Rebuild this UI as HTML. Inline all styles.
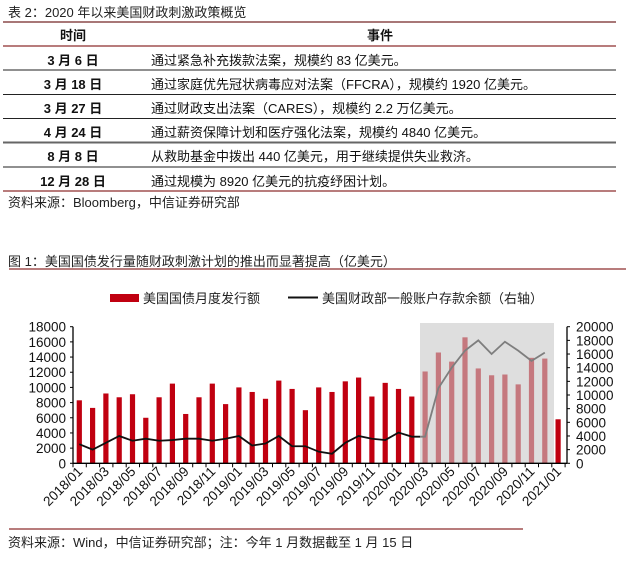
<!DOCTYPE html>
<html><head><meta charset="utf-8"><style>
body{margin:0;background:#fff;width:640px;height:558px;overflow:hidden;font-family:"Liberation Sans","Noto Sans CJK SC",sans-serif;}
svg text{font-family:"Liberation Sans","Noto Sans CJK SC",sans-serif;}
</style></head><body>
<svg width="640" height="558" xmlns="http://www.w3.org/2000/svg">
<text x="8" y="17" font-size="13" fill="#222">表 2：2020 年以来美国财政刺激政策概览</text>
<line x1="3" y1="22" x2="616" y2="22" stroke="#8b4a4a" stroke-width="1.5"/>
<text x="73" y="40" font-size="13" font-weight="bold" text-anchor="middle" fill="#111">时间</text>
<text x="380" y="40" font-size="13" font-weight="bold" text-anchor="middle" fill="#111">事件</text>
<line x1="3" y1="46" x2="616" y2="46" stroke="#a05050" stroke-width="1.5"/>
<g stroke="#222" stroke-width="1">
<line x1="3" y1="70" x2="616" y2="70"/><line x1="3" y1="94.5" x2="616" y2="94.5"/><line x1="3" y1="118.5" x2="616" y2="118.5"/><line x1="3" y1="142.5" x2="616" y2="142.5" stroke="#666" stroke-width="2"/><line x1="3" y1="167" x2="616" y2="167"/></g>
<line x1="3" y1="191" x2="616" y2="191" stroke="#a05050" stroke-width="1.5"/>
<g font-size="13" fill="#111">
<g font-weight="bold" text-anchor="middle">
<text x="73" y="65">3 月 6 日</text><text x="73" y="89">3 月 18 日</text><text x="73" y="113">3 月 27 日</text><text x="73" y="137">4 月 24 日</text><text x="73" y="161">8 月 8 日</text><text x="73" y="186">12 月 28 日</text></g>
<text x="151" y="65">通过紧急补充拨款法案，规模约 83 亿美元。</text>
<text x="151" y="89">通过家庭优先冠状病毒应对法案（FFCRA），规模约 1920 亿美元。</text>
<text x="151" y="113">通过财政支出法案（CARES），规模约 2.2 万亿美元。</text>
<text x="151" y="137">通过薪资保障计划和医疗强化法案，规模约 4840 亿美元。</text>
<text x="151" y="161">从救助基金中拨出 440 亿美元，用于继续提供失业救济。</text>
<text x="151" y="186">通过规模为 8920 亿美元的抗疫纾困计划。</text>
</g>
<text x="8" y="207" font-size="13" fill="#222">资料来源：Bloomberg，中信证券研究部</text>

<text x="8" y="266" font-size="13" fill="#222">图 1：美国国债发行量随财政刺激计划的推出而显著提高（亿美元）</text>
<line x1="9" y1="269" x2="626" y2="269" stroke="#a05050" stroke-width="1.5"/>
<rect x="110" y="294" width="29" height="8" fill="#c00010"/>
<text x="143" y="303" font-size="13" fill="#222">美国国债月度发行额</text>
<line x1="288" y1="297.5" x2="318" y2="297.5" stroke="#111" stroke-width="2"/>
<text x="322" y="303" font-size="13" fill="#222">美国财政部一般账户存款余额（右轴）</text>

<g id="chart"></g>
<line x1="9" y1="529" x2="523" y2="529" stroke="#a05050" stroke-width="1.5"/>
<text x="8" y="547" font-size="13" fill="#222">资料来源：Wind，中信证券研究部；注：今年 1 月数据截至 1 月 15 日</text>
</svg>
<script>
var bars=[8300,7300,9200,8700,9100,6000,8700,10500,6500,8700,10500,7800,10000,9400,8500,10900,9800,7000,10000,9400,10800,11300,8800,10600,9800,8800,12100,14600,13400,16600,12500,11600,11700,10400,13900,13800,5800];
var line=[2800,2000,3000,4000,3300,3600,3300,3400,3600,3600,3300,3600,4000,2600,2900,4000,2500,2500,1700,1400,3000,4000,3600,3400,4500,3900,3900,11000,14000,16500,18000,16000,17800,16500,15000,16200];
var x0=73,sp=13.3,y0=463.3,yt=326.7,H=y0-yt;
var s='';
function X(i){return x0+6.3+i*sp;}
for(var i=0;i<bars.length;i++){var h=bars[i]/18000*H;s+='<rect x="'+(X(i)-2.6)+'" y="'+(y0-h)+'" width="5.2" height="'+h+'" fill="#c00010"/>';}
var p='';for(var i=0;i<line.length;i++){p+=(i?'L':'M')+X(i)+','+(y0-line[i]/20000*H);}
s+='<path d="'+p+'" fill="none" stroke="#111" stroke-width="1.8"/>';
s+='<rect x="420" y="323" width="134" height="140" fill="#c8c8c8" opacity="0.6"/>';
s+='<line x1="73" y1="'+yt+'" x2="73" y2="'+y0+'" stroke="#000" stroke-width="1.3"/>';
s+='<line x1="567" y1="'+yt+'" x2="567" y2="'+y0+'" stroke="#000" stroke-width="1.3"/>';
s+='<line x1="73" y1="'+y0+'" x2="567" y2="'+y0+'" stroke="#000" stroke-width="1.3"/>';
for(var k=0;k<=9;k++){var y=y0-k*H/9;s+='<line x1="70" y1="'+y+'" x2="73" y2="'+y+'" stroke="#000"/><text x="66" y="'+(y+5)+'" font-size="13.5" text-anchor="end" fill="#111">'+(k*2000)+'</text>';}
for(var k=0;k<=10;k++){var y=y0-k*H/10;s+='<line x1="567" y1="'+y+'" x2="570" y2="'+y+'" stroke="#000"/><text x="576" y="'+(y+5)+'" font-size="13.5" fill="#111">'+(k*2000)+'</text>';}
for(var i=0;i<=37;i++){var x=x0+i*sp;s+='<line x1="'+x+'" y1="'+y0+'" x2="'+x+'" y2="'+(y0+4)+'" stroke="#000"/>';}
for(var i=0;i<37;i+=2){var yr=2018+Math.floor(i/12),m=i%12+1;var lab=yr+'/'+(m<10?'0':'')+m;s+='<text transform="translate('+(X(i)+4)+','+(y0+9)+') rotate(-45)" font-size="13.5" text-anchor="end" fill="#111">'+lab+'</text>';}
document.getElementById('chart').innerHTML=s;
</script>
</body></html>
